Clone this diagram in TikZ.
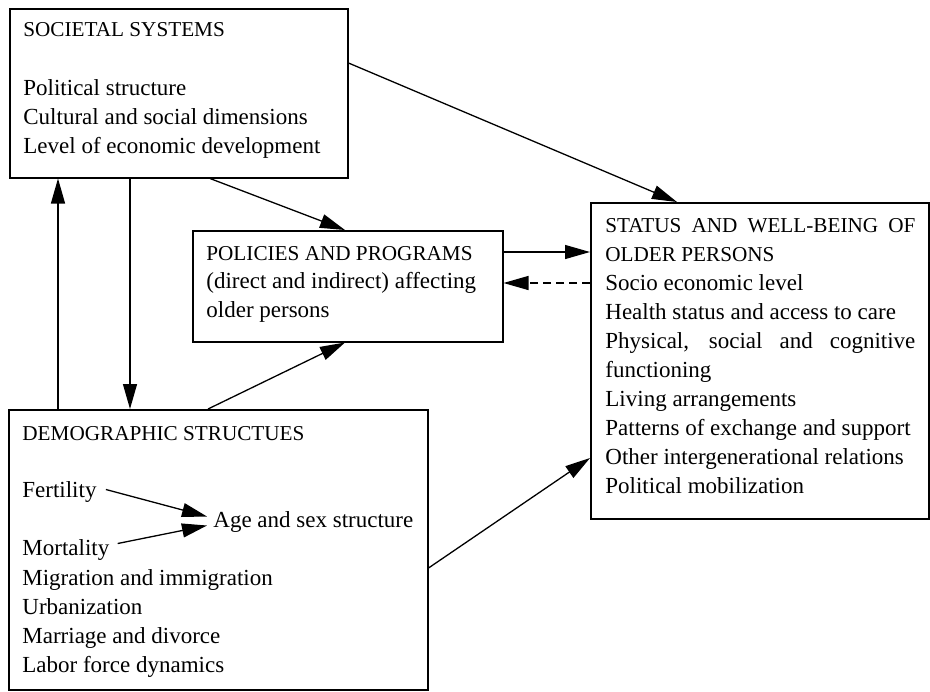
\documentclass[tikz,border=0pt]{standalone}
\usepackage{fontspec}
\setmainfont{Liberation Serif}
\usetikzlibrary{arrows.meta}
\begin{document}
\begin{tikzpicture}[x=0.5pt,y=-0.5pt,
  box/.style={draw, line width=0.75pt, inner sep=0pt, anchor=north west},
  txt/.style={anchor=base west, inner sep=0pt, font=\fontsize{11.5}{13}\selectfont},
  hdr/.style={anchor=base west, inner sep=0pt, font=\fontsize{10.6}{13}\selectfont},
  arr/.style={-{Triangle[length=12.5pt,width=7pt]}, line width=0.65pt}]
\useasboundingbox (0,0) rectangle (930,691);

% boxes
\node (soc) [box, minimum width=169pt, minimum height=84.5pt] at (9,8) {};
\node (pol) [box, minimum width=155pt, minimum height=55.5pt] at (192,230) {};
\node (sta) [box, minimum width=169pt, minimum height=158pt] at (590,202) {};
\node (dem) [box, minimum width=209.5pt, minimum height=140pt] at (8,409) {};

% societal text
\node (socH) [hdr] at (23,36) {SOCIETAL SYSTEMS};
\node (soc1) [txt] at (23,95) {Political structure};
\node (soc2) [txt] at (23,124) {Cultural and social dimensions};
\node (soc3) [txt] at (23,153) {Level of economic development};

% policies text
\node (polH) [hdr] at (206,260) {POLICIES AND PROGRAMS};
\node (pol1) [txt] at (206,288) {(direct and indirect) affecting};
\node (pol2) [txt] at (206,317) {older persons};

% status text
\node (staH1) [hdr] at (605,232) {\makebox[155pt][s]{STATUS AND WELL-BEING OF}};
\node (staH2) [hdr] at (605,261) {OLDER PERSONS};
\node (sta1) [txt] at (605,290) {Socio economic level};
\node (sta2) [txt] at (605,319) {Health status and access to care};
\node (sta3) [txt] at (605,348) {\makebox[155pt][s]{Physical, social and cognitive}};
\node (sta4) [txt] at (605,377) {functioning};
\node (sta5) [txt] at (605,406) {Living arrangements};
\node (sta6) [txt] at (605,435) {Patterns of exchange and support};
\node (sta7) [txt] at (605,464) {Other intergenerational relations};
\node (sta8) [txt] at (605,493) {Political mobilization};

% demographic text
\node (demH) [hdr] at (22,440) {DEMOGRAPHIC STRUCTUES};
\node (fer) [txt] at (22,497) {Fertility};
\node (age) [txt] at (213,527) {Age and sex structure};
\node (mor) [txt] at (22,555) {Mortality};
\node (dem1) [txt] at (22,585) {Migration and immigration};
\node (dem2) [txt] at (22,614) {Urbanization};
\node (dem3) [txt] at (22,643) {Marriage and divorce};
\node (dem4) [txt] at (22,672) {Labor force dynamics};

% connectors
\draw[arr] (58,0 |- dem.north) -- (58,0 |- soc.south);
\draw[arr] (130,0 |- soc.south) -- (130,0 |- dem.north);
\draw[arr] (210,0 |- soc.south) -- (345,0 |- pol.north);
\draw[arr] (208,0 |- dem.north) -- (345,0 |- pol.south);
\draw[arr] (soc.east |- 0,63) -- (677,0 |- sta.north);
\draw[arr] (pol.east |- 0,252) -- (sta.west |- 0,252);
\draw[arr, dash pattern=on 4pt off 2.5pt] (sta.west |- 0,283) -- (pol.east |- 0,283);
\draw[arr] (dem.east |- 0,568) -- (sta.west |- 0,458);
\draw[arr] ([xshift=4.5pt,yshift=1pt]fer.east) -- ([xshift=-3pt,yshift=2.5pt]age.west);
\draw[arr] ([xshift=4pt,yshift=3pt]mor.east) -- ([xshift=-3pt,yshift=-2pt]age.west);
\end{tikzpicture}
\end{document}
